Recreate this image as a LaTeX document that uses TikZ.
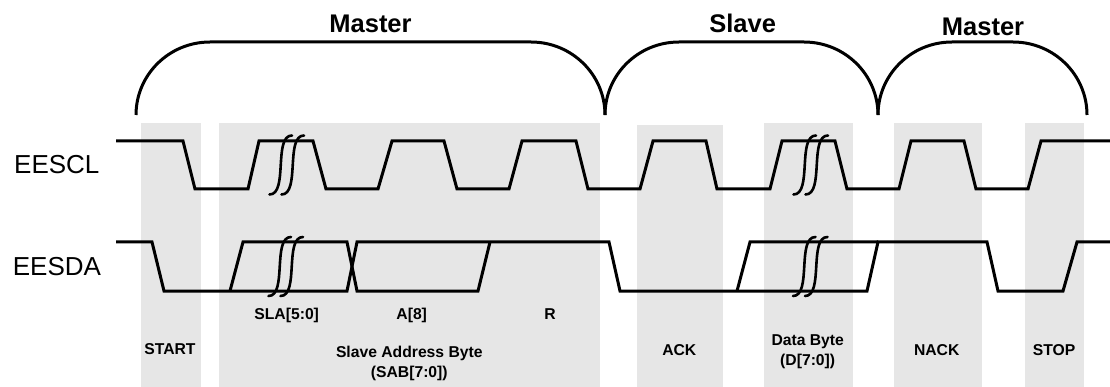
\documentclass[tikz,border=0pt]{standalone}
\usepackage{fontspec}
\setmainfont{Liberation Sans}
\setsansfont{Liberation Sans}
\definecolor{boxgray}{RGB}{230,230,230}
\newcommand\myhump[2]{%
  \draw[brace] (#1,115) .. controls (#1,74.7) and ({#1+33.1},42) .. ({#1+74},42)
    -- ({#2-74},42) .. controls ({#2-33.1},42) and (#2,74.7) .. (#2,115);}
\begin{document}
\begin{tikzpicture}[x=1pt,y=-1pt,
  wave/.style={line width=3pt},
  squigline/.style={line width=2.6pt, line cap=round},
  brace/.style={line width=3pt},
  big/.style={font=\fontsize{25.5}{30}\selectfont\bfseries, inner sep=0pt, anchor=base},
  sig/.style={font=\fontsize{26}{30}\selectfont, inner sep=0pt, anchor=base west},
  lab/.style={font=\fontsize{15.7}{19}\selectfont\bfseries, inner sep=0pt, anchor=base},
  shade/.style={fill=boxgray},
  brkmark/.pic={
    \draw[squigline] (0,0) .. controls (19,0) and (3.5,-59) .. (22.5,-59);
    \draw[squigline] (12,0) .. controls (31,0) and (15.5,-59) .. (34.5,-59);
  }]
\useasboundingbox (0,0) rectangle (1110,387);
% shaded phases
\fill[shade] (141,123) rectangle (201,387);
\fill[shade] (219,123) rectangle (600,387);
\fill[shade] (637,125) rectangle (723,387);
\fill[shade] (764,123) rectangle (853,387);
\fill[shade] (894,123) rectangle (982,387);
\fill[shade] (1025,123) rectangle (1084,387);
% SCL
\draw[wave] (116,141) -- (183,141) -- (195,189) -- (248,189) -- (259,141) -- (313,141)
  -- (326,189) -- (378,189) -- (392,141) -- (444,141) -- (457,189) -- (509,189)
  -- (522,141) -- (576,141) -- (588,189) -- (640,189) -- (653,141) -- (706,141)
  -- (717,189) -- (770,189) -- (782,141) -- (835,141) -- (847,189) -- (899,189)
  -- (911,141) -- (964,141) -- (976,189) -- (1028,189) -- (1041,141) -- (1110,141);
% SDA
\draw[wave] (116,242) -- (152,242) -- (164,291) -- (347,291) -- (357,242) -- (609,242)
  -- (620,291) -- (867,291) -- (878,242) -- (987,242) -- (998,291) -- (1063,291)
  -- (1077,242) -- (1110,242);
\draw[wave] (230,291) -- (243,242) -- (347,242) -- (357,291) -- (478,291) -- (490,242);
\draw[wave] (737,291) -- (750,242) -- (878,242);
% break marks
\pic at (269.5,194.5) {brkmark};
\pic at (268.5,296) {brkmark};
\pic at (793.5,194.5) {brkmark};
\pic at (793,296) {brkmark};
% phase braces
\myhump{136}{605}
\myhump{605}{878}
\myhump{878}{1087}
\node[big] (m1) at (370.5,33) {Master};
\node[big] (sl) at (742.7,33) {Slave};
\node[big] (m2) at (983,36) {Master};
% signal names
\node[sig] (scl) at (14,173.3) {EESCL};
\node[sig] (sda) at (12.7,275) {EESDA};
% labels
\node[lab] (sla) at (286.7,319.3) {SLA[5:0]};
\node[lab] (a8) at (411.7,319.3) {A[8]};
\node[lab] (r) at (550,319.3) {R};
\node[lab] (start) at (170,354.7) {START};
\node[lab] (sab1) at (409.3,357.7) {Slave Address Byte};
\node[lab] (sab2) at (409.3,377.3) {(SAB[7:0])};
\node[lab] (ack) at (679.3,355) {ACK};
\node[lab] (db1) at (807.7,345) {Data Byte};
\node[lab] (db2) at (807.7,365) {(D[7:0])};
\node[lab] (nack) at (936.7,355) {NACK};
\node[lab] (stop) at (1054,355) {STOP};
\end{tikzpicture}
\end{document}
